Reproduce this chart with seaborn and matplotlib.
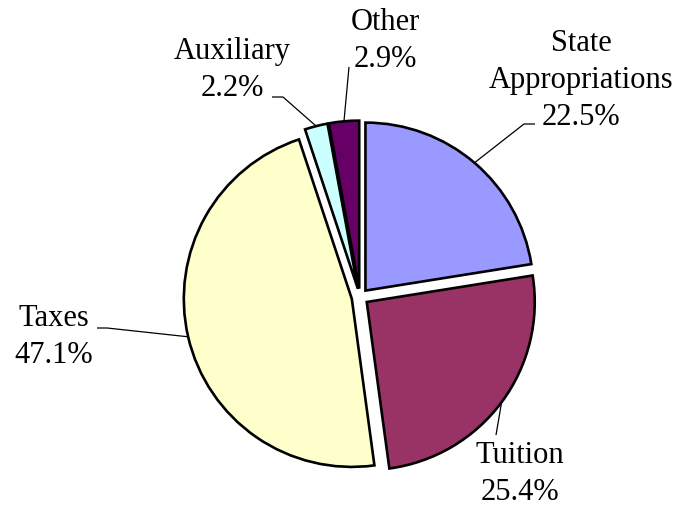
import numpy as np
import matplotlib
matplotlib.use("Agg")
import matplotlib.pyplot as plt
import seaborn as sns

# ---- data ----
categories = ["State\nAppropriations", "Tuition", "Taxes", "Auxiliary", "Other"]
shares = [22.5, 25.4, 47.1, 2.2, 2.9]
colors = ["#9999FF", "#993366", "#FFFFCC", "#CCFFFF", "#660066"]

sns.set_style("white")
plt.rcParams['font.family'] = ['Liberation Serif', 'DejaVu Serif']

W, H = 682, 508
fig = plt.figure(figsize=(W / 100, H / 100), dpi=100)
ax = fig.add_axes([0, 0, 1, 1])

R = 168
C = (360, H - 297)
EXPLODE = 8.4  # matplotlib explode is in data units
wedges, _ = ax.pie(shares, colors=colors, startangle=90, counterclock=False,
                   radius=R, center=C, explode=[EXPLODE] * len(shares),
                   wedgeprops=dict(edgecolor="black", linewidth=1.9))
ax.set_xlim(0, W)
ax.set_ylim(0, H)
ax.set_aspect("equal")
ax.axis("off")

def py(y):
    return H - y

# layout: (text centre x, last-line baseline y, leader path points after anchor) in pixels
layout = [
    (581, 125, [(524, 124), (535, 124)]),
    (520, 500, [(496, 435)]),
    (54, 363, [(107, 328), (97, 328)]),
    (232, 96, [(283, 97), (272, 97)]),
    (385, 67, [(349, 67)]),
]
LS = 37
for w, cat, pct, (tx, ty, path) in zip(wedges, categories, shares, layout):
    mid = np.deg2rad((w.theta1 + w.theta2) / 2)
    cx, cy = w.center
    ax_ = cx + w.r * np.cos(mid)
    ay_ = cy + w.r * np.sin(mid)
    xs = [ax_] + [p[0] for p in path]
    ys = [ay_] + [py(p[1]) for p in path]
    ax.plot(xs, ys, color="black", lw=0.9, solid_capstyle="butt")
    lines = cat.split("\n") + [f"{pct}%"]
    n = len(lines)
    for i, line in enumerate(lines):
        ax.text(tx, py(ty - (n - 1 - i) * LS), line, ha="center", va="baseline",
                fontsize=22, color="black")

fig.savefig("out.png", dpi=100)
